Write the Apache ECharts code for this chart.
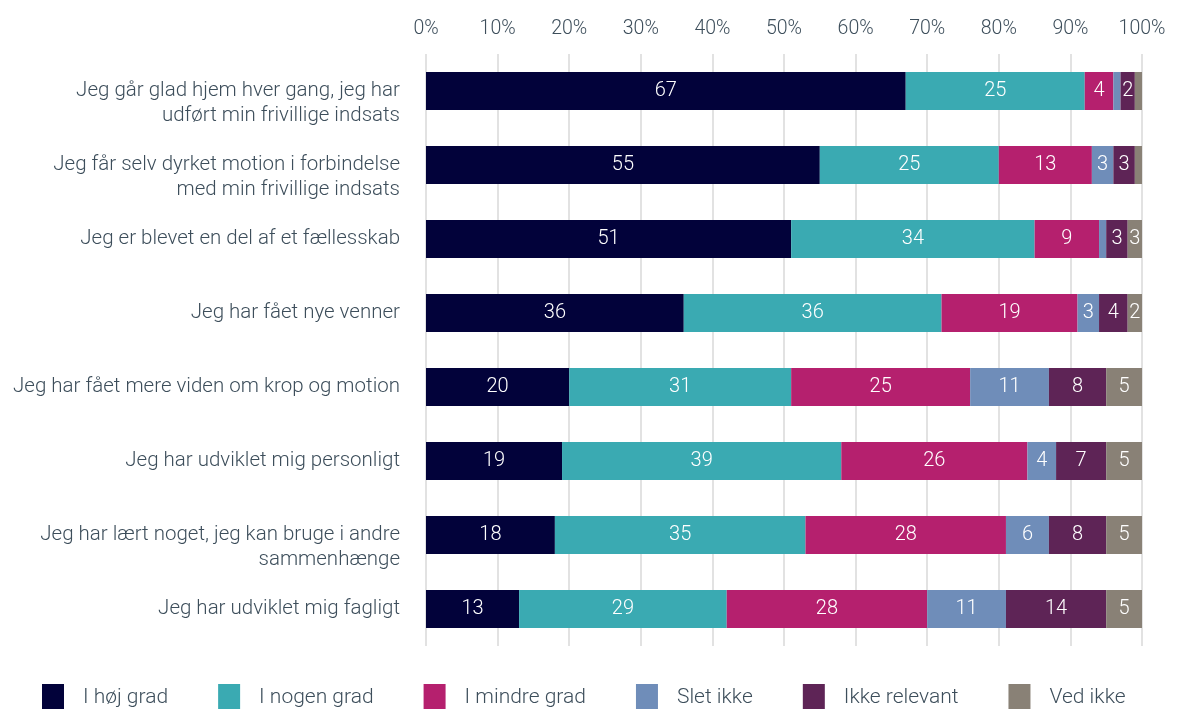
<!DOCTYPE html>
<html>
<head>
<meta charset="utf-8">
<script src="https://cdn.jsdelivr.net/npm/echarts@6/dist/echarts.min.js"></script>
<style>
  html, body { margin: 0; padding: 0; background: #fff; }
  #chart { width: 1178px; height: 709px; }
</style>
</head>
<body>
<div id="chart"></div>
<script>
const categories = [
  "Jeg går glad hjem hver gang, jeg har\nudført min frivillige indsats",
  "Jeg får selv dyrket motion i forbindelse\nmed min frivillige indsats",
  "Jeg er blevet en del af et fællesskab",
  "Jeg har fået nye venner",
  "Jeg har fået mere viden om krop og motion",
  "Jeg har udviklet mig personligt",
  "Jeg har lært noget, jeg kan bruge i andre\nsammenhænge",
  "Jeg har udviklet mig fagligt"
];

const seriesNames = ["I høj grad", "I nogen grad", "I mindre grad", "Slet ikke", "Ikke relevant", "Ved ikke"];
const colors = ["#02023a", "#3aaab2", "#b5206e", "#6f8db9", "#5e2456", "#898176"];

const hoejGrad     = [67, 55, 51, 36, 20, 19, 18, 13];
const nogenGrad    = [25, 25, 34, 36, 31, 39, 35, 29];
const mindreGrad   = [4, 13, 9, 19, 25, 26, 28, 28];
const sletIkke     = [1, 3, 1, 3, 11, 4, 6, 11];
const ikkeRelevant = [2, 3, 3, 4, 8, 7, 8, 14];
const vedIkke      = [1, 1, 3, 2, 5, 5, 5, 5];

const xTicks = [0, 10, 20, 30, 40, 50, 60, 70, 80, 90, 100];

const allData = [hoejGrad, nogenGrad, mindreGrad, sletIkke, ikkeRelevant, vedIkke];

let myChart = echarts.init(document.getElementById("chart"));

let series = [];
for (let i = 0; i < seriesNames.length; i++) {
  series.push({
    name: seriesNames[i],
    type: "bar",
    stack: "total",
    data: allData[i],
    barWidth: 38,
    itemStyle: { color: colors[i] },
    label: {
      show: true,
      position: "inside",
      color: "#fff",
      fontSize: 20,
      fontFamily: "Roboto",
      fontWeight: 300,
      formatter: function (p) {
        return p.value >= 2 ? p.value : "";
      }
    }
  });
}

myChart.setOption({
  animation: false,
  textStyle: { fontFamily: "Roboto" },
  grid: {  // 布局
    top: 54,
    bottom: 63,
    left: 426,
    right: 36
  },
  xAxis: {
    type: "value",
    position: "top",
    min: 0,
    max: 100,
    interval: 10,
    axisLine: { show: false },
    axisTick: { show: false },
    splitLine: { lineStyle: { color: "#e2e2e2", width: 2 } },
    axisLabel: {
      color: "#3d4e5b",
      fontSize: 19.5,
      fontWeight: 300,
      margin: 15,
      formatter: function (val) {
        return xTicks.indexOf(val) >= 0 ? val + "%" : "";
      }
    }
  },
  yAxis: {
    type: "category",
    inverse: true,
    data: categories,
    axisLine: { show: false },
    axisTick: { show: false },
    axisLabel: {
      interval: 0,
      color: "#3d4e5b",
      fontSize: 20.5,
      fontWeight: 300,
      lineHeight: 25,
      margin: 26,
      align: "right",
      formatter: function (val) {
        // keep the first line level with the bar
        return val.indexOf("\n") >= 0 ? "\n" + val : val;
      }
    }
  },
  legend: {
    data: seriesNames,
    left: 42,
    top: 684,
    padding: 0,
    icon: "rect",
    itemWidth: 22,
    itemHeight: 27,
    itemGap: 50,
    textStyle: {
      color: "#3d4e5b",
      fontSize: 21,
      fontWeight: 300,
      padding: [0, 0, 0, 14]
    }
  },
  series
});
</script>
</body>
</html>
